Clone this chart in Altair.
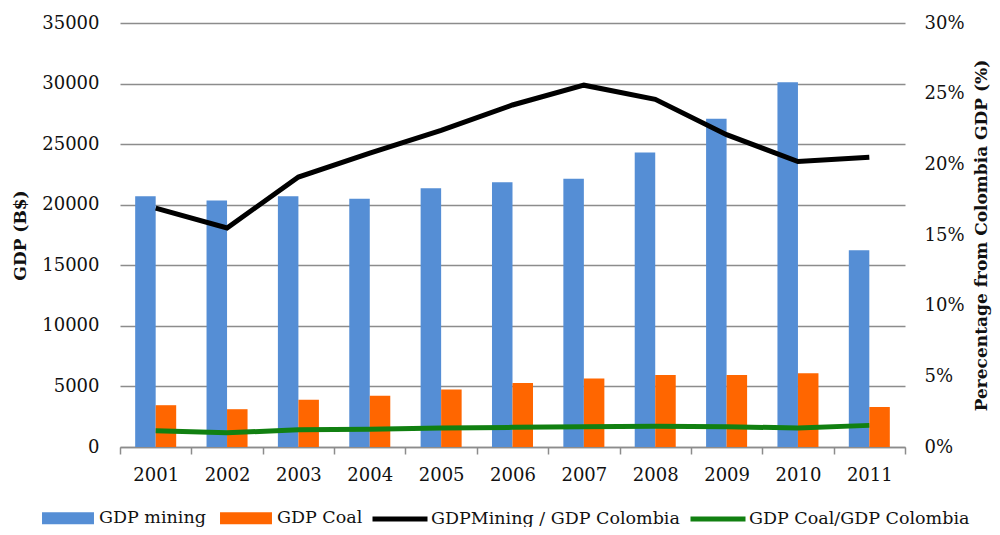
import altair as alt
import pandas as pd

years = [str(y) for y in range(2001, 2012)]
gdp_mining = [20700, 20350, 20700, 20500, 21350, 21850, 22150, 24300, 27100, 30100, 16250]
gdp_coal = [3450, 3120, 3900, 4230, 4750, 5280, 5650, 5950, 5950, 6080, 3300]
# shares of Colombia GDP, in percent
mining_share = [16.9, 15.5, 19.1, 20.8, 22.4, 24.2, 25.6, 24.6, 22.1, 20.2, 20.5]
coal_share = [1.15, 1.0, 1.22, 1.25, 1.34, 1.39, 1.44, 1.46, 1.44, 1.34, 1.53]

bar_names = ['GDP mining', 'GDP Coal']
line_names = ['GDPMining / GDP Colombia', 'GDP Coal/GDP Colombia']

bars = pd.DataFrame({
    'year': years * 2,
    'series': [bar_names[0]] * 11 + [bar_names[1]] * 11,
    'value': gdp_mining + gdp_coal,
})
lines = pd.DataFrame({
    'year': years * 2,
    'series': [line_names[0]] * 11 + [line_names[1]] * 11,
    'share': [v / 100 for v in mining_share + coal_share],
})

font = 'DejaVu Serif'
grey = '#8c8c8c'

x = alt.X('year:N', title=None,
          scale=alt.Scale(paddingInner=0, paddingOuter=0),
          axis=alt.Axis(labelAngle=0, tickBand='extent', domainColor=grey,
                        domainWidth=1.5, tickColor=grey, tickWidth=1.5,
                        tickSize=7, labelPadding=12, grid=False))

bar_chart = alt.Chart(bars).mark_bar().encode(
    x=x,
    xOffset=alt.XOffset('series:N', sort=bar_names,
                        scale=alt.Scale(paddingInner=0, paddingOuter=0.74)),
    y=alt.Y('value:Q', title='GDP (B$)',
            scale=alt.Scale(domain=[0, 35000]),
            axis=alt.Axis(values=list(range(0, 35001, 5000)), format='d',
                          grid=True, gridColor=grey, gridWidth=1.5,
                          domain=False, ticks=False, labelPadding=21,
                          titlePadding=12)),
    color=alt.Color('series:N', sort=bar_names,
                    scale=alt.Scale(domain=bar_names, range=['#558ed5', '#ff6600']),
                    legend=alt.Legend(title=None, orient='none', direction='horizontal',
                                      legendX=-78, legendY=469,
                                      symbolType='M-1,-0.23H1V0.23H-1Z',
                                      symbolSize=2700, symbolStrokeWidth=0,
                                      columnPadding=14, labelOffset=5)),
)

line_chart = alt.Chart(lines).mark_line(strokeWidth=5).encode(
    x=x,
    y=alt.Y('share:Q', title='Perecentage from Colombia GDP (%)',
            scale=alt.Scale(domain=[0, 0.3]),
            axis=alt.Axis(orient='right', format='.0%',
                          values=[0, 0.05, 0.1, 0.15, 0.2, 0.25, 0.3],
                          grid=False, domain=False, ticks=False,
                          labelPadding=19, titleAngle=270, titlePadding=26)),
    color=alt.Color('series:N', sort=line_names,
                    scale=alt.Scale(domain=line_names, range=['#000000', '#118011']),
                    legend=alt.Legend(title=None, orient='none', direction='horizontal',
                                      legendX=250, legendY=466,
                                      symbolType='stroke', symbolSize=3025,
                                      symbolStrokeWidth=5,
                                      columnPadding=0, labelOffset=1)),
)

chart = alt.layer(bar_chart, line_chart).resolve_scale(
    y='independent', color='independent'
).properties(
    width=785,
    height=424,
    autosize=alt.AutoSizeParams(type='none'),
    padding={'left': 112, 'top': 15, 'right': 87, 'bottom': 80},
).configure_view(
    stroke=None
).configure_axis(
    labelFont=font, labelFontSize=18, labelColor='#111',
    titleFont=font, titleFontSize=17, titleFontWeight='bold', titleColor='#111',
).configure_legend(
    labelFont=font, labelFontSize=17.5, labelColor='#111', labelLimit=400,
)

chart.save("out.html", embed_options={"renderer": "svg", "actions": False})
